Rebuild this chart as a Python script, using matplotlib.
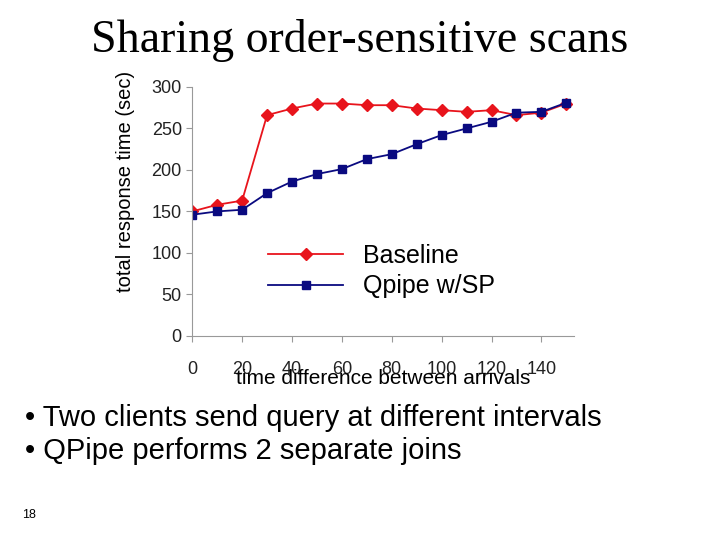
import matplotlib
matplotlib.use("Agg")
import matplotlib.pyplot as plt

x = [0, 10, 20, 30, 40, 50, 60, 70, 80, 90, 100, 110, 120, 130, 140, 150]
baseline = [150, 158, 163, 266, 274, 280, 280, 278, 278, 274, 272, 270, 272, 266, 269, 280]
qpipe = [146, 150, 152, 172, 186, 195, 201, 213, 219, 231, 242, 250, 258, 269, 270, 281]

plt.rcParams['font.family'] = ['Liberation Sans', 'DejaVu Sans']
fig = plt.figure(figsize=(7.2, 5.4), dpi=100)

fig.text(0.5, 0.925, "Sharing order-sensitive scans", ha='center', va='center',
         fontsize=33, family='Liberation Serif')

ax = fig.add_axes([0.267, 0.378, 0.53, 0.461])
ax.plot(x, baseline, color='#e8141c', marker='D', markersize=6, lw=1.3, label='Baseline')
ax.plot(x, qpipe, color='#0a0a80', marker='s', markersize=6, lw=1.3, label='Qpipe w/SP')
ax.set_xlim(0, 153)
ax.set_ylim(0, 300)
ax.set_xticks([0, 20, 40, 60, 80, 100, 120, 140])
ax.set_yticks([0, 50, 100, 150, 200, 250, 300])
for s in ['top', 'right']:
    ax.spines[s].set_visible(False)
for s in ['left', 'bottom']:
    ax.spines[s].set_color('#999999')
ax.tick_params(colors='#999999', labelcolor='#222222', labelsize=13, length=4)
ax.tick_params(axis='x', pad=14)
ax.set_ylabel("total response time (sec)", fontsize=14.5)
ax.yaxis.set_label_coords(-0.15, 0.62)
ax.set_xlabel("time difference between arrivals", fontsize=15)
ax.xaxis.set_label_coords(0.5, -0.135)
ax.legend(loc='lower left', bbox_to_anchor=(0.14, 0.06), frameon=False,
          fontsize=18, handlelength=3.0, labelspacing=0.25)

fig.text(0.035, 0.195, "\u2022 Two clients send query at different intervals\n"
         "\u2022 QPipe performs 2 separate joins", fontsize=21, va='center',
         linespacing=1.2)
fig.text(0.03, 0.04, "18", fontsize=9)

fig.savefig("out.png")
